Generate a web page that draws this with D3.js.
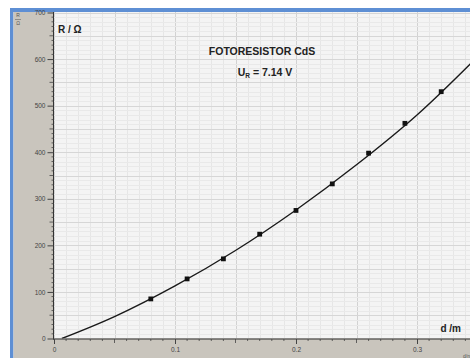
<!DOCTYPE html>
<html><head><meta charset="utf-8">
<script src="https://cdn.jsdelivr.net/npm/d3@7"></script>
<style>body{margin:0;background:#fff}svg{display:block}text{font-family:"Liberation Sans",Arial,sans-serif}</style>
</head><body><svg id="c" width="470" height="358"></svg>
<script>
// measured points
const dValues = [0.08, 0.11, 0.14, 0.17, 0.20, 0.23, 0.26, 0.29, 0.32];
const rValues = [85, 128, 171, 224, 275, 332, 398, 462, 530];
// fitted curve
const curveD = [0.0065, 0.05, 0.10, 0.15, 0.20, 0.25, 0.30, 0.345];
const curveR = [0, 47, 113, 189, 276, 373, 480, 592];
const yTicks = [0, 100, 200, 300, 400, 500, 600, 700];
const xTicks = [0, 0.1, 0.2, 0.3];
const xTickLabels = ["0", "0.1", "0.2", "0.3"];
const title = "FOTORESISTOR CdS";

const svg = d3.select("#c");
const W = 470, H = 358;
const x = d3.scaleLinear().domain([0, 0.35]).range([54, 54 + 1210 * 0.35]);
const y = d3.scaleLinear().domain([0, 700]).range([338.5, 12.5]);
const L = 54, T = 12, R = 470, B = 338.5;

// blue frame
svg.append("rect").attr("x", 10).attr("y", 8).attr("width", W - 10).attr("height", 4).attr("fill", "#5e8fd4");
svg.append("rect").attr("x", 10).attr("y", 8).attr("width", 3.5).attr("height", H - 8).attr("fill", "#5e8fd4");
// gray axis band
svg.append("rect").attr("x", 13.5).attr("y", 12).attr("width", W - 13.5).attr("height", H - 12).attr("fill", "#c9c5bd");
// plot bg
svg.append("rect").attr("x", L).attr("y", T).attr("width", R - L).attr("height", B - T).attr("fill", "#f4f4f4");

const defs = svg.append("defs");
defs.append("clipPath").attr("id", "clip").append("rect").attr("x", L).attr("y", T).attr("width", R - L).attr("height", B - T);
const g = svg.append("g").attr("clip-path", "url(#clip)");

// grid
const xMinor = d3.range(0, 36).map(i => i / 100);
const yMinor = d3.range(0, 71).map(i => i * 10);
g.selectAll(".vx").data(xMinor).join("line")
  .attr("x1", d => Math.round(x(d)) + 0.5).attr("x2", d => Math.round(x(d)) + 0.5)
  .attr("y1", T).attr("y2", B)
  .attr("stroke", (d, i) => i % 5 === 0 ? "#d2d2d2" : "#e6e6e6").attr("stroke-width", 1);
g.selectAll(".hy").data(yMinor).join("line")
  .attr("y1", d => Math.round(y(d)) + 0.5).attr("y2", d => Math.round(y(d)) + 0.5)
  .attr("x1", L).attr("x2", R)
  .attr("stroke", (d, i) => i % 5 === 0 ? "#d6d6d6" : "#e9e9e9").attr("stroke-width", 1);

// curve
const line = d3.line().x(d => x(d[0])).y(d => y(d[1])).curve(d3.curveCatmullRom.alpha(0.5));
g.append("path").datum(curveD.map((d, i) => [d, curveR[i]]))
  .attr("d", line).attr("fill", "none").attr("stroke", "#1a1a1a").attr("stroke-width", 1.4);

// points
g.selectAll(".pt").data(dValues.map((d, i) => [d, rValues[i]])).join("rect")
  .attr("x", d => x(d[0]) - 2.4).attr("y", d => y(d[1]) - 2.4)
  .attr("width", 4.8).attr("height", 4.8).attr("fill", "#111");

// axes lines
svg.append("line").attr("x1", L - 0.5).attr("x2", L - 0.5).attr("y1", T).attr("y2", B + 1).attr("stroke", "#333").attr("stroke-width", 1);
svg.append("line").attr("x1", L - 1).attr("x2", R).attr("y1", B + 0.5).attr("y2", B + 0.5).attr("stroke", "#333").attr("stroke-width", 1);

// y ticks
const yAxis = d3.axisLeft(y).tickValues(yTicks).tickSize(6).tickPadding(2).tickFormat(d3.format("d"));
const ya = svg.append("g").attr("transform", `translate(${L - 0.5},0)`).call(yAxis);
ya.select(".domain").remove();
ya.selectAll("line").attr("stroke", "#444");
ya.selectAll("text").attr("font-size", 6.5).attr("fill", "#444").attr("dy", "0.32em");
// y minor ticks
svg.selectAll(".ymt").data(yMinor.filter(v => v % 100 !== 0)).join("line")
  .attr("x1", L - 0.5).attr("x2", d => L - 0.5 - (d % 50 === 0 ? 4 : 2))
  .attr("y1", d => y(d)).attr("y2", d => y(d)).attr("stroke", "#444").attr("stroke-width", 0.8);

// x ticks
const xAxis = d3.axisBottom(x).tickValues(xTicks).tickSize(5).tickPadding(3).tickFormat((d, i) => xTickLabels[i]);
const xa = svg.append("g").attr("transform", `translate(0,${B + 0.5})`).call(xAxis);
xa.select(".domain").remove();
xa.selectAll("line").attr("stroke", "#444");
xa.selectAll("text").attr("font-size", 6.5).attr("fill", "#444");
svg.selectAll(".xmt").data(xMinor.filter(v => Math.round(v * 100) % 10 !== 0 && x(v) < R)).join("line")
  .attr("x1", d => x(d)).attr("x2", d => x(d))
  .attr("y1", B + 0.5).attr("y2", d => B + 0.5 + (Math.round(d * 100) % 5 === 0 ? 4 : 2))
  .attr("stroke", "#444").attr("stroke-width", 0.8);

// labels
svg.append("text").attr("x", 58).attr("y", 33).attr("font-size", 10).attr("font-weight", "bold").attr("fill", "#222").text("R / Ω");
svg.append("text").attr("x", 461).attr("y", 332).attr("text-anchor", "end").attr("font-size", 10).attr("font-weight", "bold").attr("fill", "#222").text("d /m");
svg.append("text").attr("x", 262).attr("y", 55).attr("text-anchor", "middle").attr("font-size", 10.5).attr("font-weight", "bold").attr("fill", "#222").text(title);
const u = svg.append("text").attr("x", 265).attr("y", 76).attr("text-anchor", "middle").attr("font-size", 10.5).attr("font-weight", "bold").attr("fill", "#222");
u.append("tspan").text("U");
u.append("tspan").attr("font-size", 6.5).attr("dy", 2).text("R");
u.append("tspan").attr("dy", -2).text(" = 7.14 V");

// small unit label in gray band
svg.append("text").attr("x", 18).attr("y", 17).attr("text-anchor", "middle").attr("font-size", 5).attr("fill", "#555").text("R");
svg.append("line").attr("x1", 15).attr("x2", 21).attr("y1", 19.5).attr("y2", 19.5).attr("stroke", "#666").attr("stroke-width", 0.6);
svg.append("text").attr("x", 18).attr("y", 25).attr("text-anchor", "middle").attr("font-size", 5).attr("fill", "#555").text("Ω");
svg.append("text").attr("x", 463).attr("y", 358).attr("font-size", 5).attr("fill", "#555").text("d/m");
</script></body></html>
